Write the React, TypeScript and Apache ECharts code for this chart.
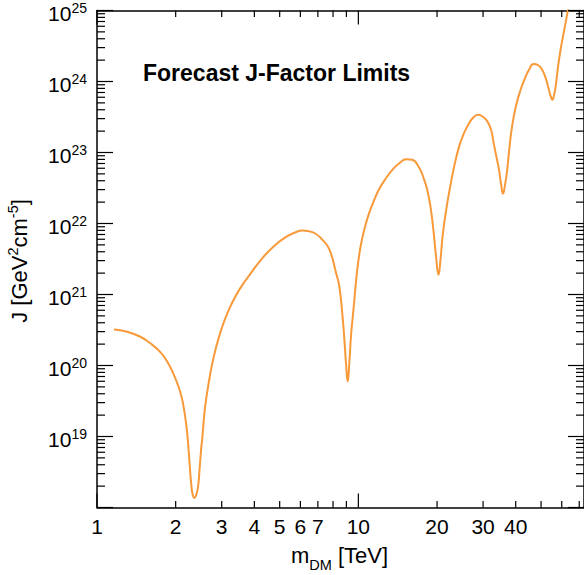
import React, { useEffect, useRef } from 'react';
import * as echarts from 'echarts';

// Dark-matter mass (TeV) and forecast J-factor limit (GeV^2 cm^-5)
const massTeV = [
  1.161, 1.302, 1.459, 1.594, 1.740, 1.850, 1.955, 2.029, 2.105, 2.154, 2.200, 2.235, 2.265, 2.299, 2.325, 2.360,
  2.398, 2.436, 2.473, 2.506, 2.532, 2.584, 2.676, 2.780, 2.922, 3.080, 3.275, 3.515, 3.837, 4.302, 4.779, 5.220,
  5.697, 6.113, 6.675, 7.290, 7.751, 8.220, 8.462, 8.688, 8.843, 8.976, 9.103, 9.240, 9.379, 9.512, 9.655, 9.826,
  10.088, 10.36, 10.63, 11.01, 11.51, 12.03, 12.79, 13.49, 14.34, 15.25, 16.07, 17.09, 17.86, 18.34, 18.83, 19.33, 19.85,
  20.25, 20.65, 21.01, 21.68, 22.59, 23.25, 24.30, 25.39, 26.53, 27.72, 28.71, 29.74, 31.07, 32.19, 33.04, 33.93,
  34.53, 35.14, 35.76, 36.40, 37.04, 37.70, 38.71, 40.10, 41.89, 43.40, 44.96, 46.76, 47.81, 49.08, 50.52, 52.19,
  53.58, 54.53, 55.15, 56.00, 56.85, 58.00, 59.39, 61.14, 63.05, 64.45,
];
const jFactor = [
  3.21e20, 2.99e20, 2.56e20, 2.07e20, 1.57e20, 1.16e20, 7.82e19, 5.61e19, 3.66e19, 2.38e19, 1.38e19, 7.40e18, 3.78e18, 1.96e18, 1.51e18, 1.36e18,
  1.51e18, 1.96e18, 3.78e18, 6.93e18, 1.0e19, 2.38e19, 5.71e19, 1.20e20, 2.45e20, 4.40e20, 7.40e20, 1.19e21, 1.89e21, 3.29e21, 4.85e21, 6.29e21,
  7.40e21, 7.97e21, 7.57e21, 5.89e21, 4.27e21, 2.00e21, 1.28e21, 5.18e20, 2.30e20, 1.02e20, 5.96e19, 1.13e20, 2.71e20, 4.70e20, 8.41e20, 1.72e21,
  3.74e21, 6.29e21, 9.29e21, 1.42e22, 2.16e22, 3.08e22, 4.41e22, 5.70e22, 7.04e22, 8.02e22, 7.89e22, 6.09e22, 4.12e22, 2.99e22, 1.83e22, 8.70e21, 3.29e21,
  1.89e21, 3.29e21, 6.71e21, 1.56e22, 3.71e22, 6.29e22, 1.22e23, 1.89e23, 2.59e23, 3.18e23, 3.40e23, 3.24e23, 2.79e23, 2.09e23, 1.28e23, 7.89e22,
  5.70e22, 3.62e22, 2.62e22, 3.51e22, 5.35e22, 1.02e23, 2.30e23, 4.55e23, 7.89e23, 1.11e24, 1.46e24, 1.77e24, 1.75e24, 1.66e24, 1.46e24, 1.09e24,
  7.64e23, 6.09e23, 5.52e23, 6.29e23, 8.51e23, 1.56e24, 2.80e24, 5.01e24, 9.19e24, 1.42e25,
];

// Axes
const X_MIN = 1;
const X_MAX = 73;
const Y_MIN = 1e18;
const Y_MAX = 1e25;
const xMajorTicks = [1, 10];
const xMinorTicks = [2, 3, 4, 5, 6, 7, 8, 9, 20, 30, 40, 50, 60, 70];
const xTickLabels = [1, 2, 3, 4, 5, 6, 7, 10, 20, 30, 40];
const yDecadeExponents = [18, 19, 20, 21, 22, 23, 24, 25];
const yLabelExponents = [19, 20, 21, 22, 23, 24, 25];
const yMinorMultipliers = [2, 3, 4, 5, 6, 7, 8, 9];

const chartTitle = 'Forecast J-Factor Limits';

const FONT = '"Liberation Sans", Arial, Helvetica, sans-serif';
const LINE_COLOR = '#f8993a';

type Tick = { axis: 'x' | 'y'; v: number; major: boolean };
type Label = { axis: 'x' | 'y'; v: number; text: string };

function buildTicks(): Tick[] {
  const t: Tick[] = [];
  xMajorTicks.forEach((v) => t.push({ axis: 'x', v, major: true }));
  xMinorTicks.forEach((v) => t.push({ axis: 'x', v, major: false }));
  yDecadeExponents.forEach((e) => t.push({ axis: 'y', v: Number(`1e${e}`), major: true }));
  yDecadeExponents.slice(0, -1).forEach((e) =>
    yMinorMultipliers.forEach((m) => t.push({ axis: 'y', v: Number(`${m}e${e}`), major: false }))
  );
  return t;
}

function buildLabels(): Label[] {
  const l: Label[] = [];
  xTickLabels.forEach((v) => l.push({ axis: 'x', v, text: String(v) }));
  yLabelExponents.forEach((e) => l.push({ axis: 'y', v: Number(`1e${e}`), text: String(e) }));
  return l;
}

export default function App() {
  const ref = useRef<HTMLDivElement>(null);

  useEffect(() => {
    if (!ref.current) return;
    const chart = echarts.init(ref.current, undefined, { renderer: 'svg' });
    const ticks = buildTicks();
    const labels = buildLabels();

    const axisLine = { show: true, lineStyle: { color: '#000', width: 1.5 } };
    const hidden = {
      axisTick: { show: false },
      axisLabel: { show: false },
      splitLine: { show: false },
      minorTick: { show: false },
      minorSplitLine: { show: false },
    };

    const tickStyle = { stroke: '#000', lineWidth: 1.2 };

    chart.setOption({
      animation: false,
      backgroundColor: '#fff',
      grid: { left: 97, top: 10.5, right: -1.2, bottom: 67.5, containLabel: false },
      xAxis: [
        { type: 'log', logBase: 10, min: X_MIN, max: X_MAX, position: 'bottom', axisLine, ...hidden },
        { type: 'log', logBase: 10, min: X_MIN, max: X_MAX, position: 'top', axisLine, ...hidden },
      ],
      yAxis: [
        { type: 'log', logBase: 10, min: Y_MIN, max: Y_MAX, position: 'left', axisLine, ...hidden },
        { type: 'log', logBase: 10, min: Y_MIN, max: Y_MAX, position: 'right', axisLine, ...hidden },
      ],
      graphic: [
        {
          type: 'text',
          x: 143,
          y: 73,
          style: {
            text: chartTitle,
            font: `bold 23px ${FONT}`,
            fill: '#000',
            align: 'left',
            verticalAlign: 'middle',
          },
        },
        {
          type: 'text',
          x: 339.5,
          y: 555,
          style: {
            text: '{n|m}{d|DM}{n| [TeV]}',
            align: 'center',
            verticalAlign: 'middle',
            fill: '#000',
            rich: {
              n: { fontSize: 22, fontFamily: FONT, fill: '#000' },
              d: { fontSize: 14.5, fontFamily: FONT, fill: '#000', padding: [20, 0, 0, 0] },
            },
          },
        },
        {
          type: 'text',
          x: 19,
          y: 261,
          rotation: Math.PI / 2,
          style: {
            text: '{n|J [GeV}{s|2}{n|cm}{s|-5}{n|]}',
            align: 'center',
            verticalAlign: 'middle',
            fill: '#000',
            rich: {
              n: { fontSize: 22, fontFamily: FONT, fill: '#000' },
              s: { fontSize: 14.5, fontFamily: FONT, fill: '#000', padding: [0, 0, 12, 0] },
            },
          },
        },
      ],
      series: [
        {
          type: 'line',
          data: massTeV.map((m, i) => [m, jFactor[i]]),
          showSymbol: false,
          smooth: 0.5,
          clip: true,
          lineStyle: { color: LINE_COLOR, width: 2 },
          z: 3,
        },
        {
          type: 'custom',
          clip: false,
          silent: true,
          data: ticks.map(() => [X_MIN, Y_MIN]),
          renderItem: (params: any, api: any) => {
            const t = ticks[params.dataIndex];
            if (t.axis === 'x') {
              const b = api.coord([t.v, Y_MIN]);
              const top = api.coord([t.v, Y_MAX]);
              const len = t.major ? 14 : 6.5;
              return {
                type: 'group',
                children: [
                  { type: 'line', shape: { x1: b[0], y1: b[1], x2: b[0], y2: b[1] - len }, style: tickStyle },
                  { type: 'line', shape: { x1: top[0], y1: top[1], x2: top[0], y2: top[1] + len }, style: tickStyle },
                ],
              };
            }
            const l = api.coord([X_MIN, t.v]);
            const r = api.coord([X_MAX, t.v]);
            const len = t.major ? 16 : 8;
            return {
              type: 'group',
              children: [
                { type: 'line', shape: { x1: l[0], y1: l[1], x2: l[0] + len, y2: l[1] }, style: tickStyle },
                { type: 'line', shape: { x1: r[0], y1: r[1], x2: r[0] - len, y2: r[1] }, style: tickStyle },
              ],
            };
          },
          z: 4,
        },
        {
          type: 'custom',
          clip: false,
          silent: true,
          data: labels.map(() => [X_MIN, Y_MIN]),
          renderItem: (params: any, api: any) => {
            const lb = labels[params.dataIndex];
            if (lb.axis === 'x') {
              const p = api.coord([lb.v, Y_MIN]);
              return {
                type: 'text',
                x: p[0],
                y: p[1] + 19,
                style: {
                  text: lb.text,
                  font: `21px ${FONT}`,
                  fill: '#000',
                  align: 'center',
                  verticalAlign: 'middle',
                },
              };
            }
            const p = api.coord([X_MIN, lb.v]);
            return {
              type: 'text',
              x: p[0] - 10,
              y: p[1] + 3,
              style: {
                text: `{b|10}{e|${lb.text}}`,
                align: 'right',
                verticalAlign: 'middle',
                fill: '#000',
                rich: {
                  b: { fontSize: 21, fontFamily: FONT, fill: '#000' },
                  e: { fontSize: 14, fontFamily: FONT, fill: '#000', padding: [0, 0, 12, 0] },
                },
              },
            };
          },
          z: 4,
        },
      ],
    });

    return () => chart.dispose();
  }, []);

  return (
    <div
      ref={ref}
      style={{ position: 'absolute', left: 0, top: 0, width: 584, height: 575, background: '#fff' }}
    />
  );
}
